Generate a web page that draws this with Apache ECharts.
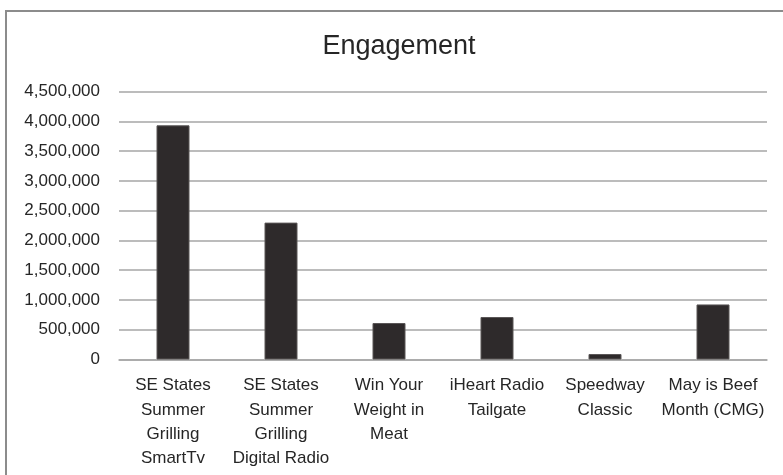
<!DOCTYPE html>
<html>
<head>
<meta charset="utf-8">
<script src="https://cdn.jsdelivr.net/npm/echarts@6/dist/echarts.min.js"></script>
<style>
  html, body { margin: 0; padding: 0; background: #ffffff; }
  #chart { width: 783px; height: 475px; }
</style>
</head>
<body>
<div id="chart"></div>
<script>
// Campaign engagement totals
const categories = [
  'SE States\nSummer\nGrilling\nSmartTv',
  'SE States\nSummer\nGrilling\nDigital Radio',
  'Win Your\nWeight in\nMeat',
  'iHeart Radio\nTailgate',
  'Speedway\nClassic',
  'May is Beef\nMonth (CMG)'
];
const engagement = [3935000, 2300000, 613000, 714000, 92000, 925000];
const yTicks = { min: 0, max: 4500000, interval: 500000 };

const FONT = '"Liberation Sans Narrow", "Liberation Sans", sans-serif';
const chart = echarts.init(document.getElementById('chart'), null, { renderer: 'canvas' });

chart.setOption({
  backgroundColor: '#ffffff',
  animation: false,
  graphic: [
    {
      // chart frame
      type: 'rect',
      shape: { x: 6, y: 11, width: 800, height: 500 },
      style: { fill: 'none', stroke: '#8c8c8c', lineWidth: 2 },
      silent: true
    },
    {
      type: 'text',
      x: 399,
      y: 47,
      style: {
        text: 'Engagement',
        textAlign: 'center',
        textVerticalAlign: 'middle',
        fontFamily: FONT,
        fontSize: 27,
        fill: '#262626'
      },
      silent: true
    }
  ],
  grid: { left: 119, right: 16, top: 91.7, bottom: 115.5, containLabel: false },
  xAxis: {
    type: 'category',
    data: categories,
    axisTick: { show: false },
    axisLine: { show: true, lineStyle: { color: '#a6a6a6', width: 1.5 } },
    axisLabel: {
      interval: 0,
      margin: 14,
      fontFamily: FONT,
      fontSize: 17,
      lineHeight: 24.3,
      color: '#262626'
    }
  },
  yAxis: {
    type: 'value',
    min: yTicks.min,
    max: yTicks.max,
    interval: yTicks.interval,
    axisLine: { show: false },
    axisTick: { show: false },
    splitLine: { lineStyle: { color: '#a6a6a6', width: 1.5 } },
    axisLabel: {
      margin: 19,
      fontFamily: FONT,
      fontSize: 17,
      color: '#262626',
      formatter: v => v.toLocaleString('en-US')
    }
  },
  series: [{
    type: 'bar',
    data: engagement,
    barWidth: 33,
    itemStyle: { color: '#2e2a2b', borderColor: '#5a5657', borderWidth: 1 }
  }]
});
</script>
</body>
</html>
